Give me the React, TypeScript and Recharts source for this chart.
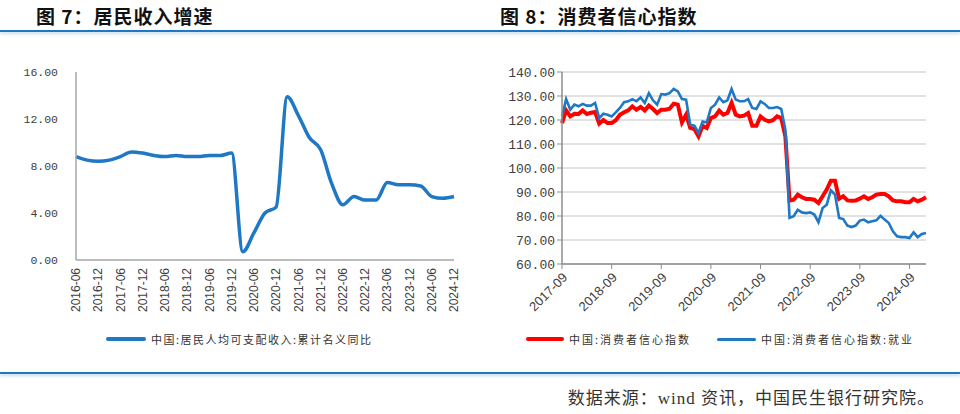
import React from 'react';
import { CartesianGrid, Line, LineChart, XAxis, YAxis } from 'recharts';

// date labels: start year/month, number of points, months between points
const dateLabels = (year: number, month: number, count: number, step: number) => {
  const out: string[] = [];
  for (let i = 0; i < count; i++) {
    const m = month - 1 + i * step;
    out.push(`${year + Math.floor(m / 12)}-${String((m % 12) + 1).padStart(2, '0')}`);
  }
  return out;
};

// 图7: quarterly, 2016-06 .. 2024-12
const incomeQuarters = dateLabels(2016, 6, 35, 3);
const incomeGrowth = [
  8.8, 8.5, 8.4,
  8.5, 8.8, 9.2, 9.1,
  8.9, 8.8, 8.9, 8.8,
  8.8, 8.9, 8.9, 9.1,
  0.7, 2.3, 4.0, 4.5,
  13.9, 12.3, 10.4, 9.4,
  6.5, 4.7, 5.4, 5.1,
  5.1, 6.6, 6.4, 6.4,
  6.3, 5.4, 5.25, 5.4,
];
const incomeTicks = [0, 4, 8, 12, 16];

// 图8: monthly, 2017-09 .. 2025-01
const confMonths = dateLabels(2017, 9, 89, 1);
const confIndex = [
  118.7, 124.0, 121.5, 122.6, 122.5, 124.0, 122.5, 123.0, 123.3, 118.5,
  120.0, 118.7, 118.7, 119.9, 122.2, 123.2, 124.0, 125.7, 124.3, 125.4,
  124.0, 126.0, 124.6, 122.9, 124.3, 124.3, 124.7, 126.8, 126.4, 119.0,
  122.2, 116.7, 116.2, 113.2, 117.6, 116.7, 120.8, 121.5, 123.9, 122.2,
  122.9, 127.1, 122.2, 121.5, 121.8, 122.9, 117.6, 117.6, 121.5, 120.1,
  119.4, 119.9, 121.5, 120.8, 113.2, 86.4, 86.8, 88.9, 87.8, 87.1,
  87.1, 86.8, 85.4, 88.2, 91.0, 94.7, 94.7, 87.2, 88.2, 86.5,
  86.4, 86.5, 87.2, 88.2, 87.1, 87.8, 88.9, 89.2, 89.2, 88.2,
  86.5, 86.1, 86.1, 85.7, 85.7, 87.1, 86.1, 86.8, 87.8,
];
const confEmployment = [
  121.5, 128.7, 124.3, 126.4, 125.7, 126.7, 126.0, 126.0, 127.1, 120.8,
  122.6, 122.2, 121.5, 123.2, 125.0, 127.4, 127.8, 128.7, 127.8, 129.4,
  127.1, 131.2, 128.2, 126.4, 130.8, 130.6, 131.2, 133.0, 131.9, 128.7,
  128.5, 118.0, 117.6, 114.6, 119.4, 119.0, 125.0, 126.4, 129.4, 127.4,
  128.2, 132.9, 128.5, 127.8, 127.8, 128.7, 125.0, 124.6, 127.8, 126.7,
  125.0, 125.0, 125.4, 124.6, 116.0, 79.2, 79.9, 82.6, 81.5, 81.2,
  81.5, 80.6, 77.4, 83.3, 84.7, 90.7, 88.9, 79.2, 78.7, 76.0,
  75.4, 76.0, 78.1, 78.5, 77.4, 77.8, 78.2, 80.1, 78.5, 77.1,
  73.6, 71.5, 71.2, 71.2, 70.8, 73.2, 71.2, 72.5, 72.9,
];
const confTicks = [60, 70, 80, 90, 100, 110, 120, 130, 140];

const incomeData = incomeQuarters.map((q, i) => ({ q, v: incomeGrowth[i] }));
const confData = confMonths.map((m, i) => ({ m, cci: confIndex[i], job: confEmployment[i] }));

const BLUE = '#1f78c4';
const RED = '#ff0000';
const CJK = '"Noto Sans CJK SC", sans-serif';

const VerticalTick = ({ x, y, payload }: any) => (
  <g transform={`translate(${x},${y + 8}) rotate(-90)`}>
    <text x={0} y={0} dy="0.35em" textAnchor="end" fontSize={12} fill="#404040" fontFamily="'Liberation Sans', Arial">
      {payload.value}
    </text>
  </g>
);

const SlantTick = ({ x, y, payload }: any) => (
  <g transform={`translate(${x + 3},${y + 6}) rotate(-45)`}>
    <text x={0} y={0} dy="0.35em" textAnchor="end" fontSize={13} fill="#404040" fontFamily="'Liberation Sans', Arial">
      {payload.value}
    </text>
  </g>
);

const Title = ({ left, text }: { left: number; text: string }) => (
  <div style={{ position: 'absolute', left, top: 6, fontSize: 19, lineHeight: '19px', fontWeight: 700, letterSpacing: 1, color: '#111', fontFamily: CJK }}>
    {text}
  </div>
);

const LegendItem = ({ left, lineWidth, thick, color, label, spacing }: any) => (
  <div style={{ position: 'absolute', left, top: 332, height: 14, display: 'flex', alignItems: 'center' }}>
    <div style={{ width: lineWidth, height: thick, background: color, borderRadius: 2, marginRight: 5 }} />
    <span style={{ fontSize: 11, lineHeight: '14px', letterSpacing: spacing, color: '#333', fontFamily: CJK }}>{label}</span>
  </div>
);

const Rule = ({ top }: { top: number }) => (
  <div style={{ position: 'absolute', left: 0, top, width: 960, height: 2, background: BLUE, boxShadow: '0 2px 3px rgba(31,120,196,0.3)' }} />
);

export default function App() {
  return (
    <div style={{ position: 'absolute', left: 0, top: 0, width: 960, height: 414, background: '#fff', overflow: 'hidden' }}>
      <Title left={36} text="图 7：居民收入增速" />
      <Title left={500} text="图 8：消费者信心指数" />
      <Rule top={30} />

      <div style={{ position: 'absolute', left: 0, top: 0 }}>
        <LineChart width={480} height={320} data={incomeData} margin={{ top: 72, right: 26, bottom: 0, left: 0 }}>
          <XAxis
            dataKey="q"
            interval={1}
            tickLine={false}
            tickSize={0}
            tickMargin={0}
            height={60}
            axisLine={{ stroke: '#a6a6a6', strokeWidth: 1.5 }}
            tick={VerticalTick}
          />
          <YAxis
            domain={[0, 16]}
            ticks={incomeTicks}
            width={76}
            tickLine={false}
            tickSize={0}
            tickMargin={18}
            axisLine={{ stroke: '#a6a6a6', strokeWidth: 1.5 }}
            tickFormatter={(v: number) => v.toFixed(2)}
            tick={{ fontSize: 11.5, fill: '#404040', fontFamily: "'Liberation Mono', monospace" }}
          />
          <Line type="monotone" dataKey="v" stroke={BLUE} strokeWidth={3.5} dot={false} isAnimationActive={false} />
        </LineChart>
      </div>

      <div style={{ position: 'absolute', left: 480, top: 0 }}>
        <LineChart width={480} height={320} data={confData} margin={{ top: 72, right: 34, bottom: 0, left: 0 }}>
          <CartesianGrid vertical={false} stroke="#d9d9d9" strokeWidth={1.5} />
          <XAxis
            dataKey="m"
            interval={11}
            tickSize={5}
            tickMargin={0}
            height={56}
            stroke="#8c8c8c"
            axisLine={{ stroke: '#8c8c8c', strokeWidth: 1.5 }}
            tickLine={{ stroke: '#8c8c8c' }}
            tick={SlantTick}
          />
          <YAxis
            domain={[60, 140]}
            ticks={confTicks}
            width={82}
            tickSize={5}
            tickMargin={2}
            axisLine={{ stroke: '#8c8c8c', strokeWidth: 1.5 }}
            tickLine={{ stroke: '#8c8c8c' }}
            tickFormatter={(v: number) => v.toFixed(2)}
            tick={{ fontSize: 13, fill: '#404040', fontFamily: "'Liberation Mono', monospace" }}
          />
          <Line type="linear" dataKey="cci" stroke={RED} strokeWidth={4} dot={false} isAnimationActive={false} />
          <Line type="linear" dataKey="job" stroke={BLUE} strokeWidth={2.6} dot={false} isAnimationActive={false} />
        </LineChart>
      </div>

      <LegendItem left={106} lineWidth={40} thick={3.5} color={BLUE} label="中国:居民人均可支配收入:累计名义同比" spacing={1.5} />
      <LegendItem left={526} lineWidth={38} thick={4.5} color={RED} label="中国:消费者信心指数" spacing={2} />
      <LegendItem left={717} lineWidth={39} thick={3} color={BLUE} label="中国:消费者信心指数:就业" spacing={2} />

      <Rule top={372} />
      <div style={{ position: 'absolute', right: 25, top: 390, fontSize: 17, lineHeight: '18px', letterSpacing: 1, color: '#333', fontFamily: '"Liberation Serif", "Noto Sans CJK SC", serif' }}>
        数据来源：wind 资讯，中国民生银行研究院。
      </div>
    </div>
  );
}
